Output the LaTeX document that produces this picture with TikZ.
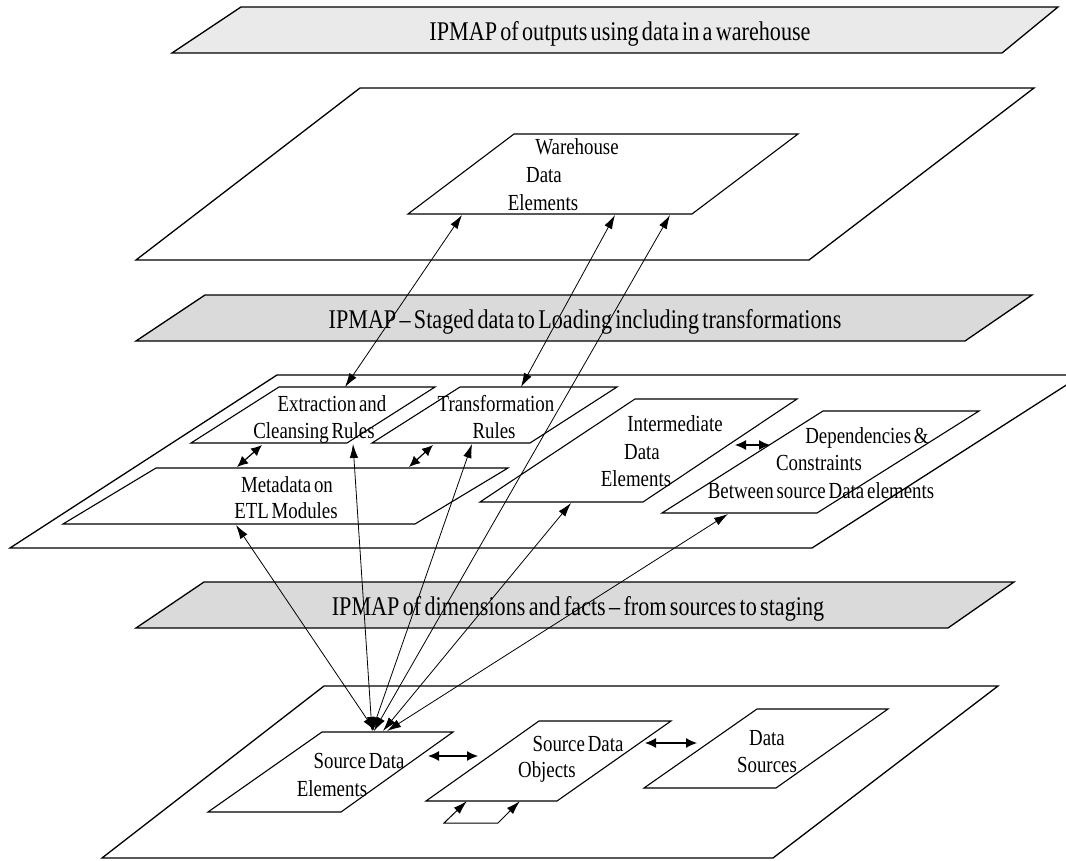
\documentclass[tikz,border=0pt]{standalone}
\usepackage{fontspec}
\setmainfont{Liberation Serif}[FakeStretch=0.82, WordSpace=0.6]
\usetikzlibrary{arrows.meta}
\definecolor{bannertop}{RGB}{234,234,234}
\definecolor{bannermid}{RGB}{218,218,218}
\tikzset{
  plane/.style={draw, line width=1.3pt, line join=miter},
  box/.style={draw, line width=1.1pt, fill=white},
  banner/.style={draw, line width=1.3pt},
  conn/.style={line width=0.8pt, {Latex[length=14pt,width=8.5pt]}-{Latex[length=14pt,width=8.5pt]}},
  shortconn/.style={line width=1.2pt, {Latex[length=11pt,width=10pt]}-{Latex[length=11pt,width=10pt]}},
  lbl/.style={font=\fontsize{23}{27}\selectfont, anchor=base, inner sep=0pt},
  blbl/.style={font=\fontsize{27}{31}\selectfont, anchor=base, inner sep=0pt}
}
\begin{document}
\begin{tikzpicture}[x=1pt,y=-1pt]
\useasboundingbox (0,0) rectangle (1066,861);
% ---------- banners ----------
\filldraw[banner, fill=bannertop] (241,7) -- (1058,7) -- (1002,53) -- (172,53) -- cycle;
\node[blbl] (t1) at (620,41) {IPMAP of outputs using data in a warehouse};
\filldraw[banner, fill=bannermid] (205,295) -- (1032,295) -- (965,341) -- (136,341) -- cycle;
\node[blbl] (t2) at (585,328) {IPMAP – Staged data to Loading including transformations};
\filldraw[banner, fill=bannermid] (204,582) -- (1014,582) -- (948,628) -- (136,628) -- cycle;
\node[blbl] (t3) at (578,615) {IPMAP of dimensions and facts – from sources to staging};
% ---------- planes ----------
\draw[plane] (360,88) -- (1034,88) -- (809,260) -- (136,260) -- cycle;
\draw[plane] (277,375) -- (1082,375) -- (812,548) -- (10,548) -- cycle;
\draw[plane] (324,686) -- (998,686) -- (773,858) -- (102,858) -- cycle;
% ---------- layer 1 ----------
\filldraw[box] (514,134) -- (798,134) -- (692,214) -- (408,214) -- cycle;
\node[lbl] (wde1) at (577,155) {Warehouse};
\node[lbl] (wde2) at (544,183) {Data};
\node[lbl] (wde3) at (543,211) {Elements};
% ---------- layer 2 ----------
\filldraw[box] (279,387) -- (435,387) -- (347,443) -- (191,443) -- cycle;
\node[lbl] (ext1) at (332,411) {Extraction and};
\node[lbl] (ext2) at (314,438) {Cleansing Rules};
\filldraw[box] (460,387) -- (617,387) -- (530,443) -- (372,443) -- cycle;
\node[lbl] (tr1) at (496,411) {Transformation};
\node[lbl] (tr2) at (494,438) {Rules};
\filldraw[box] (156,468) -- (508,468) -- (415,524) -- (63,524) -- cycle;
\node[lbl] (md1) at (287,492) {Metadata on};
\node[lbl] (md2) at (286,518) {ETL Modules};
\filldraw[box] (635,399) -- (797,399) -- (643,502) -- (480,502) -- cycle;
\node[lbl] (ie1) at (675,431) {Intermediate};
\node[lbl] (ie2) at (642,459) {Data};
\node[lbl] (ie3) at (636,486) {Elements};
\filldraw[box] (823,411) -- (979,411) -- (817,513) -- (662,513) -- cycle;
\node[lbl] (dc1) at (867,443) {Dependencies \&};
\node[lbl] (dc2) at (819,470) {Constraints};
\node[lbl] (dc3) at (821,498) {Between source Data elements};
% ---------- layer 3 ----------
\filldraw[box] (322,732) -- (453,732) -- (341,812) -- (208,812) -- cycle;
\node[lbl] (sde1) at (359,768) {Source Data};
\node[lbl] (sde2) at (332,796) {Elements};
\filldraw[box] (539,721) -- (671,721) -- (557,801) -- (426,801) -- cycle;
\node[lbl] (sdo1) at (578,751) {Source Data};
\node[lbl] (sdo2) at (547,777) {Objects};
\filldraw[box] (757,709) -- (888,709) -- (776,788) -- (644,788) -- cycle;
\node[lbl] (ds1) at (767,745) {Data};
\node[lbl] (ds2) at (767,772) {Sources};
% ---------- connector end points ----------
\coordinate (wdeA) at (462,215);
\coordinate (wdeB) at (615,215);
\coordinate (wdeC) at (670,215);
\coordinate (extT) at (345,387);
\coordinate (trT) at (521,387);
\coordinate (extB) at (353,444);
\coordinate (trB) at (472,444);
\coordinate (mdB) at (236,525);
\coordinate (ieB) at (571,503);
\coordinate (dcB) at (728,514);
\coordinate (sdeA) at (374,731);
\coordinate (sdeB) at (375,731);
\coordinate (sdeC) at (372,731);
\coordinate (sdeD) at (372,731);
\coordinate (sdeE) at (383,731);
\coordinate (sdeF) at (387,731);
\coordinate (emL) at (237,467);
\coordinate (emU) at (262,445);
\coordinate (tmL) at (409,467);
\coordinate (tmU) at (433,445);
\coordinate (idL) at (735,445);
\coordinate (idR) at (770,445);
\coordinate (ssL) at (428,756);
\coordinate (ssR) at (478,756);
\coordinate (sdL) at (645,743);
\coordinate (sdR) at (697,743);
\coordinate (loopA) at (467,801);
\coordinate (loopB) at (444,823);
\coordinate (loopC) at (498,823);
\coordinate (loopD) at (520,801);
% ---------- connectors ----------
\draw[conn] (wdeA) -- (extT);
\draw[conn] (wdeB) -- (trT);
\draw[conn] (wdeC) -- (sdeA);
\draw[conn] (mdB) -- (sdeB);
\draw[conn] (extB) -- (sdeC);
\draw[conn] (trB) -- (sdeD);
\draw[conn] (ieB) -- (sdeE);
\draw[conn] (dcB) -- (sdeF);
\draw[shortconn] (emL) -- (emU);
\draw[shortconn] (tmL) -- (tmU);
\draw[shortconn] (idL) -- (idR);
\draw[shortconn] (ssL) -- (ssR);
\draw[shortconn] (sdL) -- (sdR);
\draw[conn, line width=1pt] (loopA) -- (loopB) -- (loopC) -- (loopD);
\end{tikzpicture}
\end{document}
